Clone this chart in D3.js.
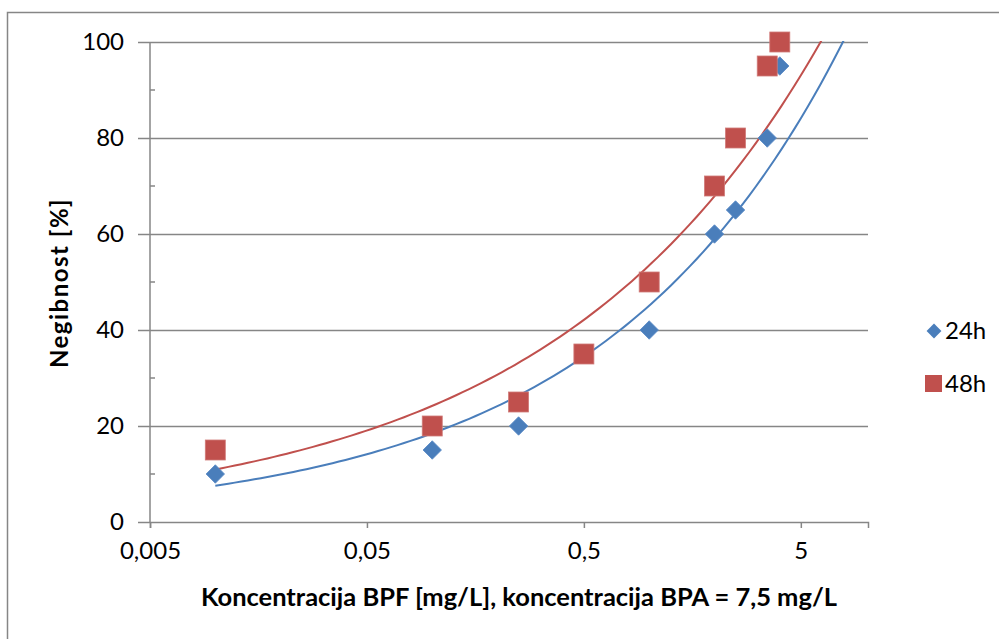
<!DOCTYPE html>
<html>
<head>
<meta charset="utf-8">
<script src="https://cdn.jsdelivr.net/npm/d3@7"></script>
<style>
  body { margin: 0; background: #fff; }
  text { font-family: Lato, "Open Sans", sans-serif; fill: #000; }
</style>
</head>
<body>
<svg id="chart" width="999" height="639"></svg>
<script>
// concentrations BPF [mg/L]
var conc = [0.01, 0.1, 0.25, 0.5, 1, 2, 2.5, 3.5, 4];
// immobility [%] (no 24h point at 0.5)
var val24 = [10, 15, 20, null, 40, 60, 65, 80, 95];
var val48 = [15, 20, 25, 35, 50, 70, 80, 95, 100];
var seriesNames = ["24h", "48h"];
var xTicks = [0.005, 0.05, 0.5, 5];
var xTickLabels = ["0,005", "0,05", "0,5", "5"];
var yTicks = [0, 20, 40, 60, 80, 100];

var svg = d3.select("#chart");
var margin = { left: 150, top: 42, right: 131, bottom: 117 };
var W = 999, H = 639;

// outer frame
svg.append("rect")
    .attr("x", 7.5).attr("y", 12.5)
    .attr("width", 1000).attr("height", 700)
    .attr("fill", "none").attr("stroke", "#868686").attr("stroke-width", 1.5);

var x = d3.scaleLog().domain([0.005, 10.2]).range([margin.left, W - margin.right]);
var y = d3.scaleLinear().domain([0, 100]).range([H - margin.bottom, margin.top]);

// gridlines
svg.append("g").selectAll("line")
    .data(yTicks.slice(1))
    .enter().append("line")
    .attr("x1", x.range()[0]).attr("x2", x.range()[1])
    .attr("y1", function (d) { return y(d) + 0.5; })
    .attr("y2", function (d) { return y(d) + 0.5; })
    .attr("stroke", "#868686").attr("stroke-width", 1.5);

// y axis
var yAxis = d3.axisLeft(y).tickValues(yTicks).tickSize(12).tickPadding(14)
    .tickFormat(function (d) { return d; });
var gy = svg.append("g").attr("transform", "translate(" + x.range()[0] + ",0)").call(yAxis);
gy.select(".domain").remove();
gy.selectAll(".tick line").attr("stroke", "#868686").attr("stroke-width", 1.5);
gy.selectAll(".tick text").style("font-size", "24px").attr("fill", "#000");
// minor ticks inside
svg.append("g").selectAll("line")
    .data(d3.range(10, 100, 20))
    .enter().append("line")
    .attr("x1", x.range()[0]).attr("x2", x.range()[0] + 5)
    .attr("y1", function (d) { return y(d); })
    .attr("y2", function (d) { return y(d); })
    .attr("stroke", "#868686").attr("stroke-width", 1.5);
svg.append("line")
    .attr("x1", x.range()[0]).attr("x2", x.range()[0])
    .attr("y1", y(0)).attr("y2", y(100))
    .attr("stroke", "#868686").attr("stroke-width", 1.5);

// x axis
var xAxis = d3.axisBottom(x).tickValues(xTicks).tickSize(6).tickPadding(14)
    .tickFormat(function (d, i) { return xTickLabels[i]; });
var gx = svg.append("g").attr("transform", "translate(0," + y(0) + ")").call(xAxis);
gx.select(".domain").attr("stroke", "#868686").attr("stroke-width", 1.5);
gx.selectAll(".tick line").attr("stroke", "#868686").attr("stroke-width", 1.5);
gx.selectAll(".tick text").style("font-size", "24px").attr("fill", "#000");

// power trendlines (least squares in log-log, like Excel)
function powerFit(xs, ys) {
    var pts = [];
    xs.forEach(function (v, i) { if (ys[i] != null) pts.push([Math.log(v), Math.log(ys[i])]); });
    var mx = d3.mean(pts, function (p) { return p[0]; });
    var my = d3.mean(pts, function (p) { return p[1]; });
    var sxy = d3.sum(pts, function (p) { return (p[0] - mx) * (p[1] - my); });
    var sxx = d3.sum(pts, function (p) { return (p[0] - mx) * (p[0] - mx); });
    var b = sxy / sxx;
    var a = Math.exp(my - b * mx);
    return function (v) { return a * Math.pow(v, b); };
}

var colors = ["#4A7EBB", "#C0504D"];
var allVals = [val24, val48];

svg.append("clipPath").attr("id", "plot")
    .append("rect").attr("x", x.range()[0]).attr("y", y(100) - 1)
    .attr("width", x.range()[1] - x.range()[0]).attr("height", y(0) - y(100) + 1);

var line = d3.line()
    .x(function (d) { return x(d[0]); })
    .y(function (d) { return y(d[1]); });

allVals.forEach(function (vals, si) {
    var f = powerFit(conc, vals);
    var xs = d3.range(0, 101).map(function (i) {
        return Math.pow(10, Math.log10(0.01) + i / 100 * (Math.log10(10) - Math.log10(0.01)));
    });
    svg.append("path")
        .datum(xs.map(function (v) { return [v, f(v)]; }))
        .attr("clip-path", "url(#plot)")
        .attr("fill", "none").attr("stroke", colors[si]).attr("stroke-width", 2)
        .attr("d", line);
});

// markers
var diamond = d3.symbol().type(d3.symbolSquare).size(170);
svg.append("g").selectAll("path")
    .data(conc.map(function (c, i) { return [c, val24[i]]; }).filter(function (d) { return d[1] != null; }))
    .enter().append("path")
    .attr("d", diamond)
    .attr("transform", function (d) { return "translate(" + x(d[0]) + "," + y(d[1]) + ") rotate(45)"; })
    .attr("fill", colors[0]).attr("stroke", "#5A8AC6").attr("stroke-width", 0.8);

svg.append("g").selectAll("rect")
    .data(conc.map(function (c, i) { return [c, val48[i]]; }))
    .enter().append("rect")
    .attr("x", function (d) { return x(d[0]) - 10; })
    .attr("y", function (d) { return y(d[1]) - 10; })
    .attr("width", 20).attr("height", 20)
    .attr("fill", colors[1]).attr("stroke", "#D07A78").attr("stroke-width", 0.8);

// legend
var lg = svg.append("g");
lg.append("path").attr("d", d3.symbol().type(d3.symbolSquare).size(110))
    .attr("transform", "translate(934,331) rotate(45)").attr("fill", colors[0]);
lg.append("text").attr("x", 945).attr("y", 339).style("font-size", "24px").text(seriesNames[0]);
lg.append("rect").attr("x", 925).attr("y", 375).attr("width", 17).attr("height", 17).attr("fill", colors[1]);
lg.append("text").attr("x", 945).attr("y", 392).style("font-size", "24px").text(seriesNames[1]);

// axis titles
svg.append("text")
    .attr("x", 519).attr("y", 606).attr("text-anchor", "middle")
    .attr("textLength", 636).attr("lengthAdjust", "spacingAndGlyphs")
    .style("font-size", "24px").style("font-weight", "bold")
    .text("Koncentracija BPF [mg/L], koncentracija BPA = 7,5 mg/L");
svg.append("g")
    .attr("transform", "translate(68,283) rotate(-90)")
    .append("text").attr("x", 0).attr("y", 0).attr("text-anchor", "middle")
    .style("font-size", "24px").style("font-weight", "bold").style("letter-spacing", "1.5px")
    .text("Negibnost [%]");
</script>
</body>
</html>
